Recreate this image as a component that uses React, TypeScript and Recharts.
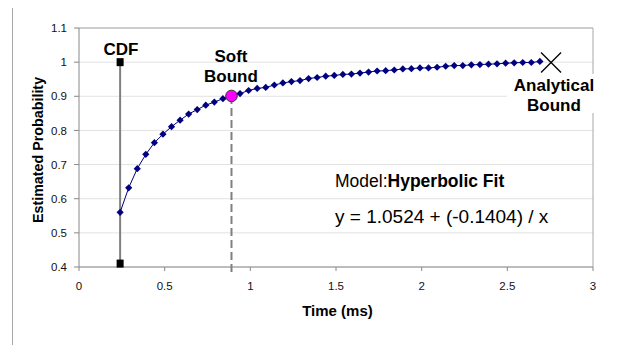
import React from "react";
import {
  ComposedChart,
  Line,
  XAxis,
  YAxis,
  CartesianGrid,
  ReferenceLine,
  ReferenceDot,
} from "recharts";

// estimated CDF samples
const timeMs = [
  0.24, 0.29, 0.34, 0.39, 0.44, 0.49, 0.54, 0.59, 0.64, 0.69,
  0.74, 0.79, 0.84, 0.89, 0.94, 0.99, 1.04, 1.09, 1.14, 1.19,
  1.24, 1.29, 1.34, 1.39, 1.44, 1.49, 1.54, 1.59, 1.64, 1.69,
  1.74, 1.79, 1.84, 1.89, 1.94, 1.99, 2.04, 2.09, 2.14, 2.19,
  2.24, 2.29, 2.34, 2.39, 2.44, 2.49, 2.54, 2.59, 2.64, 2.69,
];
const probability = [
  0.56, 0.632, 0.688, 0.73, 0.764, 0.789, 0.811, 0.83, 0.848, 0.861,
  0.874, 0.883, 0.893, 0.901, 0.908, 0.917, 0.923, 0.926, 0.933, 0.939,
  0.943, 0.946, 0.952, 0.955, 0.959, 0.961, 0.964, 0.965, 0.968, 0.971,
  0.974, 0.975, 0.977, 0.98, 0.981, 0.983, 0.983, 0.985, 0.988, 0.99,
  0.99, 0.992, 0.993, 0.994, 0.995, 0.997, 0.998, 0.999, 0.999, 1.002,
];

const xTicks = [0, 0.5, 1, 1.5, 2, 2.5, 3];
const yTicks = [0.4, 0.5, 0.6, 0.7, 0.8, 0.9, 1.0, 1.1];

const cdfTime = 0.24;
const cdfLow = 0.41;
const cdfHigh = 1.0;
const softBound = { x: 0.89, y: 0.901 };
const analyticalBound = { x: 2.755, y: 0.999 };
const dashBottom = 0.377;

const FONT = "Arial, 'Liberation Sans', sans-serif";

const data = timeMs.map((t, i) => ({ t, p: probability[i] }));

const Diamond = (props: any) => {
  const { cx, cy } = props;
  if (cx == null || cy == null) return null;
  const r = 3.6;
  return (
    <path
      d={`M${cx},${cy - r} L${cx + r},${cy} L${cx},${cy + r} L${cx - r},${cy} Z`}
      fill="#000080"
    />
  );
};

const Square = (props: any) => {
  const { cx, cy } = props;
  return <rect x={cx - 3.5} y={cy - 4} width={7} height={8} fill="#000" />;
};

const Cross = (props: any) => {
  const { cx, cy } = props;
  const r = 10;
  return (
    <g stroke="#000" strokeWidth={1.3}>
      <line x1={cx - r} y1={cy - r} x2={cx + r} y2={cy + r} />
      <line x1={cx - r} y1={cy + r} x2={cx + r} y2={cy - r} />
    </g>
  );
};

const Magenta = (props: any) => {
  const { cx, cy } = props;
  return <circle cx={cx} cy={cy} r={5.8} fill="#ff00ff" stroke="#333" strokeWidth={1} />;
};

export default function App() {
  const bold = { fontFamily: FONT, fontWeight: 700, fontSize: 17, fill: "#000" };
  return (
    <div style={{ position: "relative", width: 619, height: 345, margin: "-8px 0 0 -8px", background: "#fff" }}>
      <ComposedChart
        width={619}
        height={345}
        data={data}
        margin={{ top: 28, right: 26, left: 39, bottom: 48 }}
        style={{ fontFamily: FONT }}
      >
        <CartesianGrid vertical={false} stroke="#e2e2e2" strokeWidth={1} />
        <XAxis
          dataKey="t"
          type="number"
          domain={[0, 3]}
          ticks={xTicks}
          height={30}
          tickSize={4}
          tickMargin={11}
          stroke="#888"
          tick={{ fontSize: 11.5, fill: "#111", fontFamily: FONT }}
        />
        <YAxis
          type="number"
          domain={[0.4, 1.1]}
          ticks={yTicks}
          width={40}
          tickSize={5}
          tickMargin={7}
          stroke="#888"
          tick={{ fontSize: 11.5, fill: "#111", fontFamily: FONT }}
          tickFormatter={(v: number) => String(+v.toFixed(1))}
        />
        <ReferenceLine y={1.1} stroke="#a8a8a8" />
        <ReferenceLine x={3} stroke="#a8a8a8" />
        <ReferenceLine
          segment={[
            { x: cdfTime, y: cdfLow },
            { x: cdfTime, y: cdfHigh },
          ]}
          stroke="#808080"
          strokeWidth={2}
        />
        <ReferenceLine
          segment={[
            { x: softBound.x, y: softBound.y },
            { x: softBound.x, y: dashBottom },
          ]}
          stroke="#808080"
          strokeWidth={2}
          strokeDasharray="8 4"
          ifOverflow="visible"
        />
        <Line
          dataKey="p"
          stroke="#000080"
          strokeWidth={1}
          dot={<Diamond />}
          isAnimationActive={false}
        />
        <ReferenceDot x={cdfTime} y={cdfLow} shape={<Square />} />
        <ReferenceDot x={cdfTime} y={cdfHigh} shape={<Square />} />
        <ReferenceDot x={softBound.x} y={softBound.y} shape={<Magenta />} />
        <ReferenceDot x={analyticalBound.x} y={analyticalBound.y} shape={<Cross />} />
      </ComposedChart>
      <svg
        width={619}
        height={345}
        style={{ position: "absolute", left: 0, top: 0, pointerEvents: "none" }}
      >
        <rect x={12.5} y={6.5} width={605} height={400} fill="none" stroke="#a8a8a8" />
        <rect x={507} y={74} width={90} height={39} fill="#fff" />
        <text x={121} y={55} textAnchor="middle" {...bold}>CDF</text>
        <text x={231} y={62} textAnchor="middle" {...bold}>Soft</text>
        <text x={231} y={82} textAnchor="middle" {...bold}>Bound</text>
        <text x={554} y={91} textAnchor="middle" {...bold}>Analytical</text>
        <text x={554} y={111} textAnchor="middle" {...bold}>Bound</text>
        <text x={335} y={187} style={{ fontFamily: FONT, fontSize: 17.5 }} fill="#000">
          Model:<tspan fontWeight={700}>Hyperbolic Fit</tspan>
        </text>
        <text x={335} y={223} style={{ fontFamily: FONT, fontSize: 19 }} fill="#000">
          y = 1.0524 + (-0.1404) / x
        </text>
        <text
          x={43}
          y={150}
          transform="rotate(-90 43 150)"
          textAnchor="middle"
          style={{ fontFamily: FONT, fontWeight: 700, fontSize: 14.3 }}
          fill="#000"
        >
          Estimated Probability
        </text>
        <text
          x={337.5}
          y={316}
          textAnchor="middle"
          style={{ fontFamily: FONT, fontWeight: 700, fontSize: 15 }}
          fill="#000"
        >
          Time (ms)
        </text>
      </svg>
    </div>
  );
}
